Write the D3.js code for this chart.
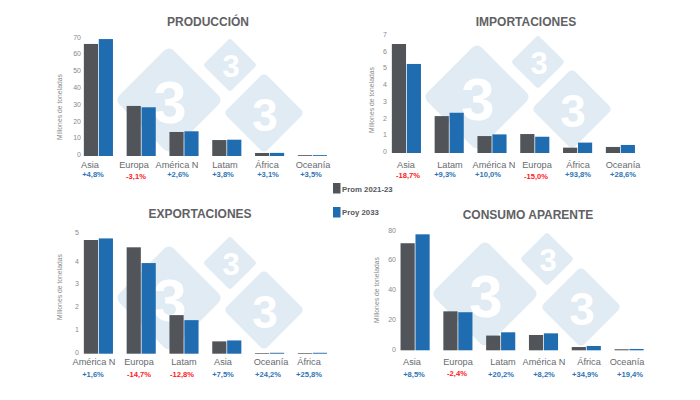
<!DOCTYPE html>
<html><head><meta charset="utf-8">
<script src="https://cdn.jsdelivr.net/npm/d3@7/dist/d3.min.js"></script>
<style>html,body{margin:0;padding:0;background:#fff}svg{display:block}text{font-family:"Liberation Sans",Arial,sans-serif}</style>
</head><body><svg id="c" width="700" height="400"></svg>
<script>
const seriesNames = ["Prom 2021-23", "Proy 2033"];
const yTitle = "Millones de toneladas";

const prodCats = ["Asia","Europa","América N","Latam","África","Oceanía"];
const prodBase = [66.7,29.8,14.3,9.5,1.8,0.5];
const prodProj = [69.6,29.0,14.7,9.7,1.85,0.52];
const prodPct = ["+4,8%","-3,1%","+2,6%","+3,8%","+3,1%","+3,5%"];
const prodTicks = [0,10,20,30,40,50,60,70];

const impCats = ["Asia","Latam","América N","Europa","África","Oceanía"];
const impBase = [6.5,2.2,1.01,1.13,0.32,0.36];
const impProj = [5.31,2.4,1.11,0.97,0.62,0.48];
const impPct = ["-18,7%","+9,3%","+10,0%","-15,0%","+93,8%","+28,6%"];
const impTicks = [0,1,2,3,4,5,6,7];

const expCats = ["América N","Europa","Latam","Asia","Oceanía","África"];
const expBase = [4.98,4.66,1.69,0.54,0.03,0.03];
const expProj = [5.05,3.97,1.47,0.58,0.04,0.04];
const expPct = ["+1,6%","-14,7%","-12,8%","+7,5%","+24,2%","+25,8%"];
const expTicks = [0,1,2,3,4,5];

const consCats = ["Asia","Europa","Latam","América N","África","Oceanía"];
const consBase = [72,26.2,9.9,10.3,2.2,0.7];
const consProj = [78,25.6,12.1,11.4,2.9,0.9];
const consPct = ["+8,5%","-2,4%","+20,2%","+8,2%","+34,9%","+19,4%"];
const consTicks = [0,20,40,60,80];

// layout of each panel (kept apart from the data)
const panels = [
 {title:"PRODUCCIÓN", tx:208, ty:26, cats:prodCats, a:prodBase, b:prodProj, pct:prodPct, ticks:prodTicks,
  x0:77, y0:156, pxPerUnit:1.68, tickX:81, ttlX:60, ttlY:107, labY:167.5, pctY:176.5,
  labX:[90,134,177,225,267,313], pctX:[93,136,178,223,268,311], pctDy:[0,2,0,0,0,0], tickDy:{},
  wm:[169,100,230,65,264,113]},
 {title:"IMPORTACIONES", tx:526, ty:26, cats:impCats, a:impBase, b:impProj, pct:impPct, ticks:impTicks,
  x0:385, y0:153, pxPerUnit:16.77, tickX:387, ttlX:372, ttlY:100, labY:167.5, pctY:176.5,
  labX:[406,450,494,537,578,623], pctX:[408,445,488,536,578,623], pctDy:[1,0,0,2,0,0], tickDy:{},
  wm:[477,97,538,62,572,109]},
 {title:"EXPORTACIONES", tx:200, ty:218, cats:expCats, a:expBase, b:expProj, pct:expPct, ticks:expTicks,
  x0:77, y0:353.7, pxPerUnit:22.83, tickX:79, ttlX:60, ttlY:287, labY:364.5, pctY:376.5,
  labX:[94,139,184,223,271,309], pctX:[93,139,182,223,268,309], pctDy:[0,0,0,0,0,0], tickDy:{5:-6},
  wm:[169,298,230,263,264,310]},
 {title:"CONSUMO APARENTE", tx:528, ty:219, cats:consCats, a:consBase, b:consProj, pct:consPct, ticks:consTicks,
  x0:393.7, y0:350.3, pxPerUnit:1.487, tickX:396, ttlX:377, ttlY:290, labY:364.5, pctY:376.5,
  labX:[412,458,503,544,589,627], pctX:[414,457,501,544,585,630], pctDy:[0,-1,0,0,0,0], tickDy:{},
  wm:[485,294,547,259,581,307]}
];

const colors = d3.scaleOrdinal().domain(seriesNames).range(["#515459","#1f6cb0"]);
const svg = d3.select("#c");
const WM = "#e0ebf4";
const stepW = 42.8;

function diamond(g, cx, cy, half, fs){
  const side = half*1.04*Math.SQRT2, r = half*0.12;
  g.append("rect").attr("x",-side/2).attr("y",-side/2).attr("width",side).attr("height",side)
   .attr("rx",r).attr("ry",r).attr("fill",WM)
   .attr("transform",`translate(${cx},${cy}) rotate(45)`);
  g.append("text").attr("x",cx+1).attr("y",cy+fs*0.36+1).attr("text-anchor","middle")
   .attr("font-size",fs).attr("font-weight",700).attr("fill","#fff").text("3");
}

panels.forEach(p=>{
  const wm = svg.append("g");
  diamond(wm,p.wm[0],p.wm[1],52,60);
  diamond(wm,p.wm[2],p.wm[3],26,31);
  diamond(wm,p.wm[4],p.wm[5],39,46);
});

panels.forEach(p=>{
  const g = svg.append("g");
  g.append("text").attr("x",p.tx).attr("y",p.ty).attr("text-anchor","middle")
   .attr("font-size",12).attr("font-weight",700).attr("fill","#5f6164").text(p.title);

  const x = d3.scaleBand().domain(p.cats).range([p.x0,p.x0+stepW*6]).paddingInner(0.32).paddingOuter(0.16);
  const inner = d3.scaleBand().domain(seriesNames).range([0,x.bandwidth()]).paddingInner(0.05);
  const top = d3.max(p.ticks);
  const y = d3.scaleLinear().domain([0,top]).range([p.y0,p.y0-top*p.pxPerUnit]);

  const yAxis = d3.axisLeft(y).tickValues(p.ticks).tickSize(0).tickPadding(0).tickFormat(d3.format("d"));
  const ya = g.append("g").attr("transform",`translate(${p.tickX},0)`).call(yAxis);
  ya.select(".domain").remove();
  ya.selectAll("text").attr("font-size",7).attr("fill","#8a8a8a").style("font-family",'"Liberation Sans",Arial,sans-serif')
    .attr("transform",d=>`translate(0,${(p.tickDy[d]||0)-1.5})`);

  g.append("text").attr("transform",`translate(${p.ttlX},${p.ttlY}) rotate(-90)`).attr("text-anchor","middle")
   .attr("dy","0.32em").attr("font-size",6.8).attr("fill","#8a8a8a").text(yTitle);

  [[seriesNames[0],p.a],[seriesNames[1],p.b]].forEach(([name,vals])=>{
    g.append("g").selectAll("rect").data(vals).join("rect")
      .attr("x",(d,i)=>x(p.cats[i])+inner(name))
      .attr("width",inner.bandwidth())
      .attr("y",d=>y(d))
      .attr("height",d=>y(0)-y(d))
      .attr("fill",colors(name));
  });

  p.cats.forEach((c,i)=>{
    g.append("text").attr("x",p.labX[i]).attr("y",p.labY).attr("text-anchor","middle")
     .attr("font-size",9.2).attr("fill","#666a6e").text(c);
    const neg = p.pct[i][0]==="-";
    g.append("text").attr("x",p.pctX[i]).attr("y",p.pctY+p.pctDy[i]).attr("text-anchor","middle")
     .attr("font-size",7.6).attr("font-weight",700).attr("fill",neg?"#ff2020":"#2f74b5").text(p.pct[i]);
  });
});

const legend = svg.append("g");
const legendRows = [[333,183,342,192],[333,207,342,214.5]];
seriesNames.forEach((s,i)=>{
  const [sx,sy,tx,ty] = legendRows[i];
  legend.append("rect").attr("x",sx).attr("y",sy).attr("width",7.5).attr("height",10.5).attr("fill",colors(s));
  legend.append("text").attr("x",tx).attr("y",ty).attr("font-size",7.8).attr("font-weight",700).attr("fill","#55585c").text(s);
});
</script></body></html>
